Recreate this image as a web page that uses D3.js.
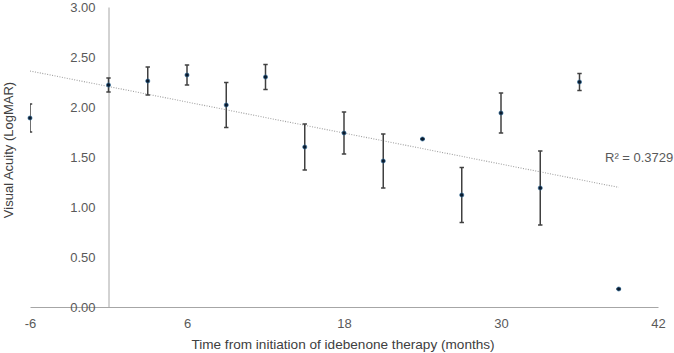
<!DOCTYPE html>
<html>
<head>
<meta charset="utf-8">
<script src="https://cdn.jsdelivr.net/npm/d3@7"></script>
<style>
  body { margin: 0; background: #fff; }
  svg { font-family: "Liberation Sans", Arial, sans-serif; }
  .tick text { fill: #595959; font-size: 13px; }
  .axis-label { fill: #404040; font-size: 13px; }
</style>
</head>
<body>
<svg width="674" height="353"></svg>
<script>
// months from start of idebenone, mean LogMAR, error (+/-)
const months = [-6, 0, 3, 6, 9, 12, 15, 18, 21, 24, 27, 30, 33, 36, 39];
const logmar = [1.89, 2.22, 2.26, 2.32, 2.02, 2.30, 1.60, 1.74, 1.46, 1.68, 1.12, 1.94, 1.19, 2.25, 0.18];
const errors = [0.14, 0.07, 0.14, 0.10, 0.225, 0.125, 0.23, 0.21, 0.27, 0, 0.275, 0.20, 0.37, 0.085, 0];

const xTicks = [-6, 6, 18, 30, 42];
const yTicks = [0, 0.5, 1, 1.5, 2, 2.5, 3];
const rSquaredLabel = 'R\u00B2 = 0.3729';

const xLabel = 'Time from initiation of idebenone therapy (months)';
const yLabel = 'Visual Acuity (LogMAR)';

const margin = { left: 30, right: 16, top: 7, bottom: 46 };

const svg = d3.select('svg');
const width = +svg.attr('width');
const height = +svg.attr('height');
const innerWidth = width - margin.left - margin.right;
const innerHeight = height - margin.top - margin.bottom;

const data = months.map((m, i) => ({ x: m, y: logmar[i], e: errors[i] }));

const xScale = d3.scaleLinear().domain([-6, 42]).range([0, innerWidth]);
const yScale = d3.scaleLinear().domain([0, 3]).range([innerHeight, 0]);

const g = svg.append('g')
    .attr('transform', `translate(${margin.left},${margin.top})`);

g.append('clipPath').attr('id', 'plot-clip')
  .append('rect')
    .attr('x', 0).attr('y', -5)
    .attr('width', innerWidth).attr('height', innerHeight + 10);

// x axis at y = 0
const xAxisG = g.append('g')
    .attr('transform', `translate(0, ${innerHeight})`)
    .call(d3.axisBottom(xScale).tickValues(xTicks).tickSize(0).tickPadding(12)
      .tickFormat(d => String(d)));

// y axis at x = 0
const yAxisG = g.append('g')
    .attr('transform', `translate(${xScale(0)}, 0)`)
    .call(d3.axisLeft(yScale).tickValues(yTicks).tickSize(0).tickPadding(13)
      .tickFormat(d3.format('.2f')));

[xAxisG, yAxisG].forEach(a => {
  a.select('.domain').attr('stroke', '#a6a6a6').attr('stroke-width', 1);
  a.selectAll('.tick text').style('font-size', '13px');
});
yAxisG.raise();

// linear trend line (least squares)
const mx = d3.mean(data, d => d.x);
const my = d3.mean(data, d => d.y);
const slope = d3.sum(data, d => (d.x - mx) * (d.y - my)) / d3.sum(data, d => (d.x - mx) ** 2);
const trend = d3.extent(months).map(x => ({ x, y: my + slope * (x - mx) }));

g.append('path')
    .datum(trend)
    .attr('fill', 'none')
    .attr('stroke', '#a0a0a0')
    .attr('stroke-width', 1.1)
    .attr('stroke-dasharray', '1,1.5')
    .attr('d', d3.line().x(d => xScale(d.x)).y(d => yScale(d.y)));

// error bars
const bars = g.append('g').attr('clip-path', 'url(#plot-clip)')
    .attr('stroke', '#404040').attr('stroke-width', 1.5)
  .selectAll('g').data(data).enter().append('g');

bars.append('line')
    .attr('x1', d => xScale(d.x)).attr('x2', d => xScale(d.x))
    .attr('y1', d => yScale(d.y + d.e)).attr('y2', d => yScale(d.y - d.e));
bars.append('line')
    .attr('x1', d => xScale(d.x) - 2.2).attr('x2', d => xScale(d.x) + 2.2)
    .attr('y1', d => yScale(d.y + d.e)).attr('y2', d => yScale(d.y + d.e));
bars.append('line')
    .attr('x1', d => xScale(d.x) - 2.2).attr('x2', d => xScale(d.x) + 2.2)
    .attr('y1', d => yScale(d.y - d.e)).attr('y2', d => yScale(d.y - d.e));

// points
g.selectAll('circle.pt').data(data)
  .enter().append('circle')
    .attr('class', 'pt')
    .attr('cx', d => xScale(d.x))
    .attr('cy', d => yScale(d.y))
    .attr('r', 2.1)
    .attr('fill', '#0b1a2c')
    .attr('stroke', '#2f6f9f')
    .attr('stroke-width', 0.6);

g.append('text')
    .attr('class', 'axis-label')
    .attr('x', 575)
    .attr('y', 155)
    .style('fill', '#595959')
    .text(rSquaredLabel);

g.append('text')
    .attr('class', 'axis-label')
    .attr('x', innerWidth / 2 - 1)
    .attr('y', innerHeight + 42)
    .style('text-anchor', 'middle')
    .style('font-size', '13.6px')
    .text(xLabel);

svg.append('text')
    .attr('class', 'axis-label')
    .attr('transform', `translate(13, 150) rotate(-90)`)
    .style('text-anchor', 'middle')
    .text(yLabel);
</script>
</body>
</html>
